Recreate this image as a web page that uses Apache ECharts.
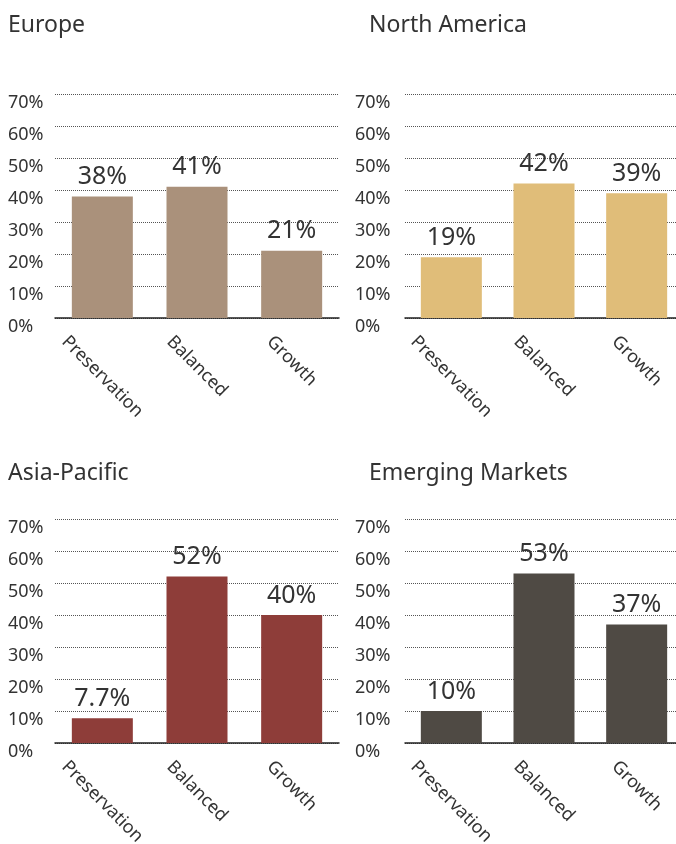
<!DOCTYPE html>
<html>
<head>
<meta charset="utf-8">
<script src="https://cdn.jsdelivr.net/npm/echarts@6/dist/echarts.min.js"></script>
<style>
  html, body { margin: 0; padding: 0; background: #fff; }
  #chart { width: 676px; height: 844px; }
</style>
</head>
<body>
<div id="chart"></div>
<script>
// data
var categories = ['Preservation', 'Balanced', 'Growth'];
var regions = ['Europe', 'North America', 'Asia-Pacific', 'Emerging Markets'];
var europeValues = [38, 41, 21];
var northAmericaValues = [19, 42, 39];
var asiaPacificValues = [7.7, 52, 40];
var emergingValues = [10, 53, 37];
var yMin = 0, yMax = 70, yStep = 10;
var colors = ['#aa917b', '#e0bd79', '#8e3d39', '#4f4a44'];

var seriesValues = [europeValues, northAmericaValues, asiaPacificValues, emergingValues];
var FONT = '"Noto Sans", "Open Sans", sans-serif';
var TEXT = '#333333';
var LABEL_SIZE = 18;

// panel placement
var panels = [
    { left: 55,  top: 94,  width: 284, labelX: 8,   titleLeft: 8,   titleTop: 14 },
    { left: 405, top: 94,  width: 278, labelX: 355, titleLeft: 369, titleTop: 14 },
    { left: 55,  top: 519, width: 284, labelX: 8,   titleLeft: 8,   titleTop: 462 },
    { left: 405, top: 519, width: 278, labelX: 355, titleLeft: 369, titleTop: 462 }
];

// rotated category labels: bounding box centred under the bar, top at a fixed gap
var ctx = document.createElement('canvas').getContext('2d');
ctx.font = LABEL_SIZE + 'px ' + FONT;
var rich = {};
categories.forEach(function (c, i) {
    var w = ctx.measureText(c).width;
    rich['c' + i] = {
        fontSize: LABEL_SIZE,
        fontFamily: FONT,
        color: TEXT,
        padding: [w / 2, 0, 0, w / 2]
    };
});

var titles = [], grids = [], xAxes = [], yAxes = [], series = [];
panels.forEach(function (p, i) {
    titles.push({
        text: regions[i],
        left: p.titleLeft,
        top: p.titleTop,
        padding: 0,
        textStyle: { fontFamily: FONT, fontSize: 23, fontWeight: 'normal', color: TEXT }
    });
    grids.push({
        left: p.left, top: p.top, width: p.width, height: 224,
        outerBoundsMode: 'none'
    });
    xAxes.push({
        type: 'category',
        gridIndex: i,
        data: categories,
        axisTick: { show: false },
        axisLine: { lineStyle: { color: '#222', width: 1.5 } },
        axisLabel: {
            interval: 0,
            rotate: -45,
            align: 'center',
            verticalAlign: 'middle',
            margin: 21,
            formatter: function (v) {
                return '{c' + categories.indexOf(v) + '|' + v + '}';
            },
            rich: rich
        }
    });
    yAxes.push({
        type: 'value',
        gridIndex: i,
        min: yMin,
        max: yMax,
        interval: yStep,
        axisLine: { show: false },
        axisTick: { show: false },
        axisLabel: {
            formatter: '{value}%',
            align: 'left',
            verticalAlign: 'top',
            margin: p.left - p.labelX,
            fontFamily: FONT,
            fontSize: 18,
            color: TEXT
        },
        splitLine: { lineStyle: { color: '#555', width: 1, type: 'dotted' } }
    });
    series.push({
        type: 'bar',
        xAxisIndex: i,
        yAxisIndex: i,
        barWidth: 61,
        itemStyle: { color: colors[i] },
        label: {
            show: true,
            position: 'top',
            distance: 7,
            fontFamily: FONT,
            fontSize: 25,
            color: TEXT,
            formatter: function (d) { return d.value + '%'; }
        },
        data: seriesValues[i]
    });
});

var myChart = echarts.init(document.getElementById('chart'));
myChart.setOption({
    animation: false,
    title: titles,
    grid: grids,
    xAxis: xAxes,
    yAxis: yAxes,
    series: series
});
</script>
</body>
</html>
